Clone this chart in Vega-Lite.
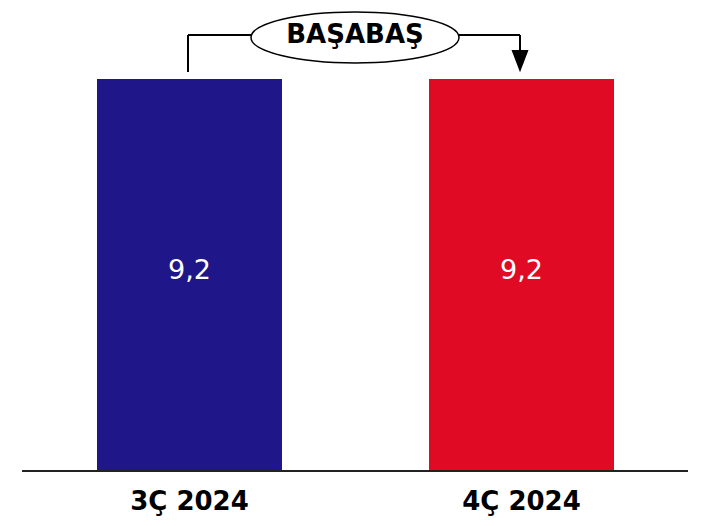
{
  "$schema": "https://vega.github.io/schema/vega-lite/v6.json",
  "width": 705,
  "height": 526,
  "autosize": {"type": "none"},
  "padding": 0,
  "background": "white",
  "config": {"view": {"stroke": null}},
  "datasets": {
    "bars": [
      {"period": "3Ç 2024", "pos": 1, "value": 9.2, "label": "9,2"},
      {"period": "4Ç 2024", "pos": 2, "value": 9.2, "label": "9,2"}
    ],
    "connector": [
      {"x": 0.9955, "y": 9.364, "x2": 0.9955, "y2": 10.232},
      {"x": 0.9955, "y": 10.232, "x2": 1.9955, "y2": 10.232},
      {"x": 1.9955, "y": 10.232, "x2": 1.9955, "y2": 9.75}
    ],
    "arrow": [{"x": 1.9955, "y": 9.62}],
    "note": [{"x": 1.4985, "y": 10.173, "ty": 10.24, "text": "BAŞABAŞ"}],
    "baseline": [{"x": 0.4955, "x2": 2.5015, "y": 0}]
  },
  "layer": [
    {
      "data": {"name": "bars"},
      "mark": {"type": "bar", "size": 185},
      "encoding": {
        "x": {"field": "pos", "type": "quantitative", "scale": {"domain": [0.4292, 2.5527], "nice": false, "zero": false, "padding": 0}, "axis": null},
        "y": {"field": "value", "type": "quantitative", "scale": {"domain": [-1.291, 11.054], "nice": false, "zero": false, "padding": 0}, "axis": null},
        "y2": {"datum": 0},
        "color": {"field": "period", "type": "nominal", "scale": {"domain": ["3Ç 2024", "4Ç 2024"], "range": ["#1F1689", "#E00A25"]}, "legend": null}
      }
    },
    {
      "data": {"name": "bars"},
      "mark": {"type": "text", "color": "white", "fontSize": 27, "font": "DejaVu Sans", "baseline": "middle", "align": "center"},
      "encoding": {
        "x": {"field": "pos", "type": "quantitative"},
        "y": {"datum": 4.694},
        "text": {"field": "label"}
      }
    },
    {
      "data": {"name": "bars"},
      "mark": {"type": "text", "color": "black", "fontSize": 26, "fontWeight": "bold", "font": "DejaVu Sans", "baseline": "middle", "align": "center"},
      "encoding": {
        "x": {"field": "pos", "type": "quantitative"},
        "y": {"datum": -0.728},
        "text": {"field": "period"}
      }
    },
    {
      "data": {"name": "baseline"},
      "mark": {"type": "rule", "color": "#222222", "strokeWidth": 2},
      "encoding": {
        "x": {"field": "x", "type": "quantitative"},
        "x2": {"field": "x2"},
        "y": {"field": "y", "type": "quantitative"}
      }
    },
    {
      "data": {"name": "connector"},
      "mark": {"type": "rule", "color": "black", "strokeWidth": 2},
      "encoding": {
        "x": {"field": "x", "type": "quantitative"},
        "x2": {"field": "x2"},
        "y": {"field": "y", "type": "quantitative"},
        "y2": {"field": "y2"}
      }
    },
    {
      "data": {"name": "arrow"},
      "mark": {"type": "point", "shape": "M -1 -1.3 L 1 -1.3 L 0 1.3 Z", "size": 289, "filled": true, "color": "black", "opacity": 1},
      "encoding": {
        "x": {"field": "x", "type": "quantitative"},
        "y": {"field": "y", "type": "quantitative"}
      }
    },
    {
      "data": {"name": "note"},
      "mark": {"type": "point", "shape": "M -1 0 C -1 -0.1353 -0.5523 -0.245 0 -0.245 C 0.5523 -0.245 1 -0.1353 1 0 C 1 0.1353 0.5523 0.245 0 0.245 C -0.5523 0.245 -1 0.1353 -1 0 Z", "size": 43264, "filled": true, "fill": "white", "stroke": "black", "strokeWidth": 1.5, "opacity": 1},
      "encoding": {
        "x": {"field": "x", "type": "quantitative"},
        "y": {"field": "y", "type": "quantitative"}
      }
    },
    {
      "data": {"name": "note"},
      "mark": {"type": "text", "color": "black", "fontSize": 26, "fontWeight": "bold", "font": "DejaVu Sans", "baseline": "middle", "align": "center"},
      "encoding": {
        "x": {"field": "x", "type": "quantitative"},
        "y": {"field": "ty", "type": "quantitative"},
        "text": {"field": "text"}
      }
    }
  ]
}
